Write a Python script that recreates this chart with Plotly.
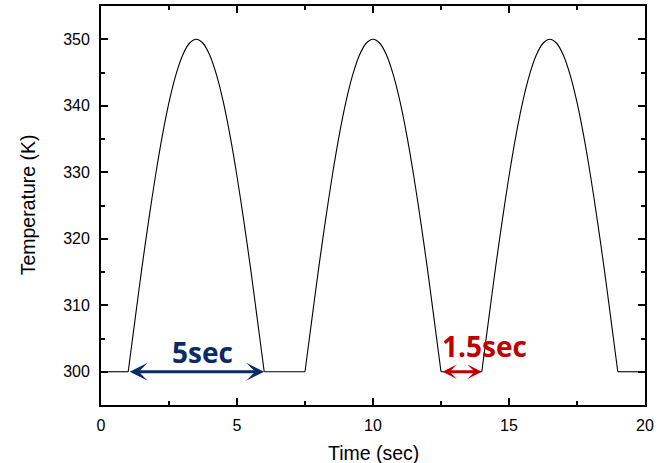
import plotly.graph_objects as go

# ---- data ----
pulse_starts = [1.0, 7.5, 14.0]          # s, start of each heating pulse
pulse_offsets = [0.0, 0.25, 0.5, 0.75, 1.0, 1.25, 1.5, 1.75, 2.0, 2.25, 2.5,
                 2.75, 3.0, 3.25, 3.5, 3.75, 4.0, 4.25, 4.5, 4.75, 5.0]
pulse_temps = [300, 307.8, 315.5, 322.7, 329.4, 335.4, 340.5, 344.6, 347.6, 349.4, 350,
               349.4, 347.6, 344.6, 340.5, 335.4, 329.4, 322.7, 315.5, 307.8, 300]
flat_starts = [0.0, 6.0, 12.5, 19.0]
flat_ends = [1.0, 7.5, 14.0, 20.0]
base_temp = 300

x_ticks = [0, 5, 10, 15, 20]
y_ticks = [300, 310, 320, 330, 340, 350]

BLUE = "#0B2A66"
RED = "#C00000"
FONT = "Liberation Sans, Arial, sans-serif"

fig = go.Figure()

# flat (ambient) segments
fx, fy = [], []
for a, b in zip(flat_starts, flat_ends):
    fx += [a, b, None]
    fy += [base_temp, base_temp, None]
fig.add_trace(go.Scatter(x=fx, y=fy, mode="lines", line=dict(color="black", width=1.1),
                         showlegend=False, hoverinfo="skip", connectgaps=False))

# heating pulses
for s in pulse_starts:
    fig.add_trace(go.Scatter(x=[s + o for o in pulse_offsets], y=pulse_temps, mode="lines",
                             line=dict(color="black", width=1.1, shape="spline", smoothing=0.8),
                             showlegend=False, hoverinfo="skip"))

axis_common = dict(
    showline=True, linecolor="black", linewidth=1.8, mirror="allticks",
    ticks="inside", ticklen=7, tickwidth=1.5, tickcolor="black",
    showgrid=False, zeroline=False,
    tickfont=dict(family=FONT, size=16, color="black"),
)

fig.update_xaxes(range=[0, 20], tickvals=x_ticks, ticklabelstandoff=5,
                 minor=dict(dtick=2.5, ticks="inside", ticklen=4, tickwidth=1.5,
                            tickcolor="black", showgrid=False),
                 **axis_common)
fig.update_yaxes(range=[295, 355], tickvals=y_ticks, ticklabelstandoff=6,
                 minor=dict(dtick=5, ticks="inside", ticklen=4, tickwidth=1.5,
                            tickcolor="black", showgrid=False),
                 **axis_common)

# arrows
fig.add_annotation(x=6.0, y=300, ax=1.0, ay=300, xref="x", yref="y", axref="x", ayref="y",
                   text="", showarrow=True, arrowside="end+start",
                   arrowhead=3, startarrowhead=3, arrowsize=1.0, startarrowsize=1.0,
                   arrowwidth=3, arrowcolor=BLUE, standoff=0, startstandoff=0)
fig.add_annotation(x=14.0, y=300, ax=12.5, ay=300, xref="x", yref="y", axref="x", ayref="y",
                   text="", showarrow=True, arrowside="end+start",
                   arrowhead=3, startarrowhead=3, arrowsize=0.8, startarrowsize=0.8,
                   arrowwidth=3, arrowcolor=RED, standoff=0, startstandoff=0)

fig.add_annotation(x=3.73, y=302.95, xref="x", yref="y", text="<b>5sec</b>", showarrow=False,
                   font=dict(family="Open Sans", size=28, color=BLUE),
                   xanchor="center", yanchor="middle")
fig.add_annotation(x=14.1, y=303.85, xref="x", yref="y", text="<b>1.5sec</b>", showarrow=False,
                   font=dict(family="Open Sans", size=28, color=RED),
                   xanchor="center", yanchor="middle")

# axis titles
fig.add_annotation(x=0.5, y=-0.1197, xref="paper", yref="paper", text="Time (sec)",
                   showarrow=False, font=dict(family=FONT, size=19.5, color="black"),
                   xanchor="center", yanchor="middle")
fig.add_annotation(x=-0.1337, y=0.501, xref="paper", yref="paper", text="Temperature (K)",
                   textangle=-90, showarrow=False,
                   font=dict(family=FONT, size=19.5, color="black"),
                   xanchor="center", yanchor="middle")

fig.update_layout(width=658, height=463,
                  margin=dict(l=101, r=11, t=4, b=58),
                  plot_bgcolor="white", paper_bgcolor="white")

fig.write_html("out.html",
               config={"displayModeBar": False},
               post_script="document.body.style.margin='0px';"
                           "document.body.style.overflow='hidden';")
